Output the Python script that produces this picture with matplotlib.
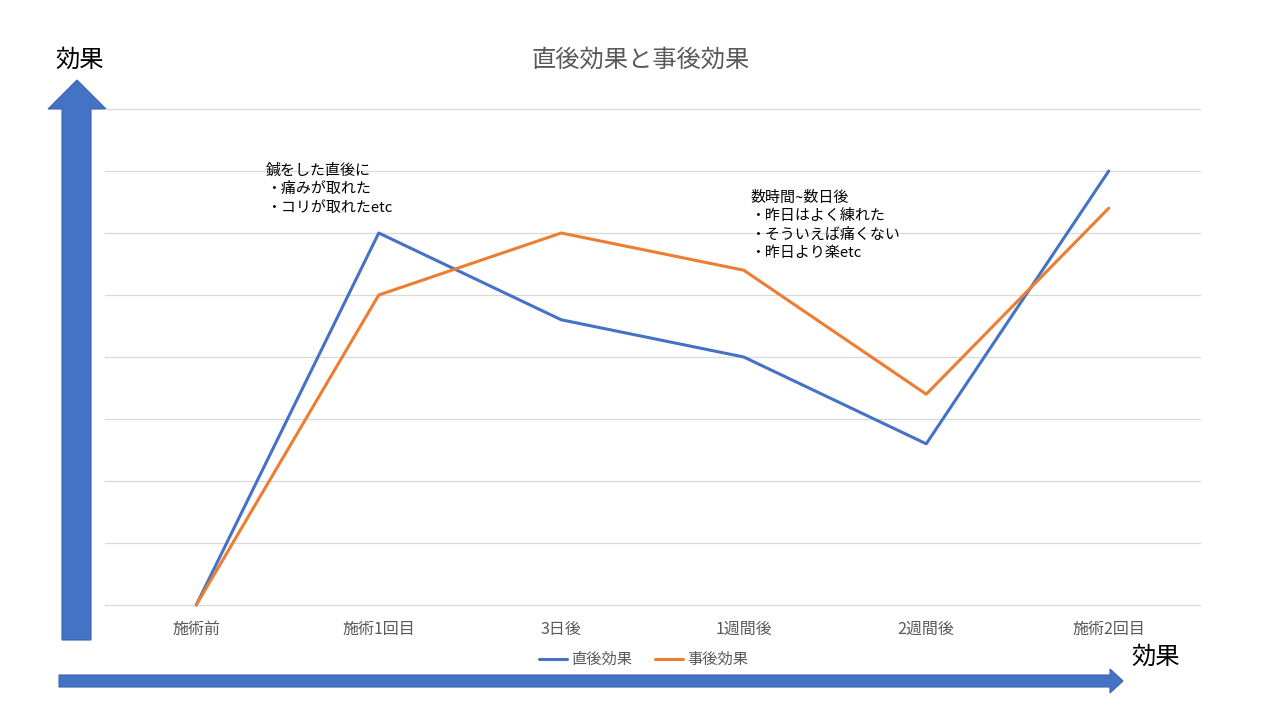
import matplotlib
matplotlib.use("Agg")
import matplotlib.pyplot as plt
from matplotlib.patches import Polygon

plt.rcParams['font.family'] = ['Noto Sans CJK JP', 'DejaVu Sans']

categories = ['施術前', '施術1回目', '3日後', '1週間後', '2週間後', '施術2回目']
immediate = [0, 6, 4.6, 4, 2.6, 7]
after = [0, 5, 6, 5.4, 3.4, 6.4]
series_names = ['直後効果', '事後効果']
title = '直後効果と事後効果'
note1 = '鍼をした直後に\n・痛みが取れた\n・コリが取れたetc'
note2 = '数時間~数日後\n・昨日はよく練れた\n・そういえば痛くない\n・昨日より楽etc'
axis_label = '効果'

W, H = 1280, 720
fig = plt.figure(figsize=(W / 100, H / 100), dpi=100)

# main axes: x 105..1200 px, y 109..605 px
ax = fig.add_axes([105 / W, 1 - 605 / H, (1200 - 105) / W, (605 - 109) / H])
x = list(range(len(categories)))
ax.plot(x, immediate, color='#4472C4', lw=2.2, label=series_names[0], solid_capstyle='round', clip_on=False)
ax.plot(x, after, color='#ED7D31', lw=2.2, label=series_names[1], solid_capstyle='round', clip_on=False)
ax.set_xlim(-0.5, len(categories) - 0.5)
ax.set_ylim(0, 8)
ax.set_yticks(range(0, 9))
ax.yaxis.grid(True, color='#D9D9D9', lw=0.9)
for gl in ax.get_ygridlines():
    gl.set_clip_on(False)
ax.set_axisbelow(True)
ax.tick_params(axis='y', left=False, labelleft=False)
ax.set_xticks(x)
ax.set_xticklabels(categories, color='#595959', fontsize=11.5)
ax.tick_params(axis='x', bottom=False, pad=8)
for s in ax.spines.values():
    s.set_visible(False)
ax.set_facecolor('none')

leg = ax.legend(loc='upper center', bbox_to_anchor=(0.492, -0.065), ncol=2, frameon=False,
                fontsize=11, handlelength=1.8, columnspacing=1.5, handletextpad=0.3)
for t in leg.get_texts():
    t.set_color('#595959')

# overlay axes in pixel coordinates
ov = fig.add_axes([0, 0, 1, 1], zorder=-1)
ov.set_xlim(0, W)
ov.set_ylim(H, 0)
ov.axis('off')

blue = '#4472C4'
# vertical arrow
ov.add_patch(Polygon([(62, 640), (91, 640), (91, 109), (106, 109), (77, 80), (48, 109), (62, 109)],
                     closed=True, facecolor=blue, edgecolor='#3A63AD', lw=0.8))
# horizontal arrow
ov.add_patch(Polygon([(59, 675), (1110, 675), (1110, 669), (1123, 681), (1110, 693), (1110, 687), (59, 687)],
                     closed=True, facecolor=blue, edgecolor='#3A63AD', lw=0.8))

fig.text(641 / W, 1 - 60 / H, title, ha='center', va='center', fontsize=17.5, color='#595959')
fig.text(80 / W, 1 - 60 / H, axis_label, ha='center', va='center', fontsize=17.5, color='black')
fig.text(1156 / W, 1 - 657 / H, axis_label, ha='center', va='center', fontsize=17.5, color='black')

fig.text(266 / W, 1 - 163 / H, note1, ha='left', va='top', fontsize=10.8, color='black', linespacing=1.45)
fig.text(750 / W, 1 - 191 / H, note2, ha='left', va='top', fontsize=10.8, color='black', linespacing=1.38)

fig.savefig('out.png', dpi=100, facecolor='white')
